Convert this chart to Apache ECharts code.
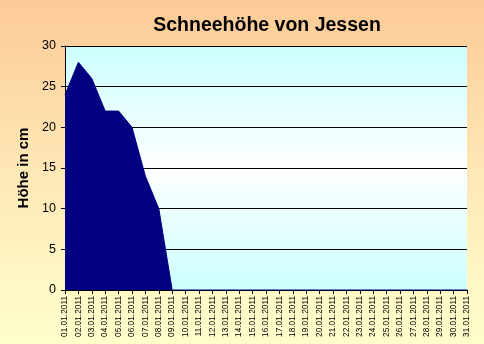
<!DOCTYPE html>
<html><head><meta charset="utf-8">
<script src="https://cdn.jsdelivr.net/npm/echarts@6/dist/echarts.min.js"></script>
<style>html,body{margin:0;padding:0}#c{width:484px;height:344px}</style>
</head><body><div id="c"></div>
<script>
const categories = ["01.01.2011","02.01.2011","03.01.2011","04.01.2011","05.01.2011","06.01.2011","07.01.2011","08.01.2011","09.01.2011","10.01.2011","11.01.2011","12.01.2011","13.01.2011","14.01.2011","15.01.2011","16.01.2011","17.01.2011","18.01.2011","19.01.2011","20.01.2011","21.01.2011","22.01.2011","23.01.2011","24.01.2011","25.01.2011","26.01.2011","27.01.2011","28.01.2011","29.01.2011","30.01.2011","31.01.2011"];
const schneehoehe = [24,28,26,22,22,20,14,10,0,0,0,0,0,0,0,0,0,0,0,0,0,0,0,0,0,0,0,0,0,0,0];
const yTicks = [0,5,10,15,20,25,30];
const titleText = "Schneehöhe von Jessen";
const yName = "Höhe in cm";

const chart = echarts.init(document.getElementById('c'), null, {renderer:'canvas'});
chart.setOption({
  animation:false,
  backgroundColor:{type:'linear',x:0,y:0,x2:0,y2:1,colorStops:[{offset:0,color:'#fcca96'},{offset:0.5,color:'#fee8b6'},{offset:1,color:'#ffffcc'}]},
  title:{text:titleText,left:262,top:11,textAlign:'center',textStyle:{fontFamily:'Liberation Sans',fontSize:19.5,fontWeight:'bold',color:'#000'}},
  grid:{left:65,right:17,top:46,bottom:54,show:true,borderWidth:0,
    backgroundColor:{type:'linear',x:0,y:0,x2:0,y2:1,colorStops:[{offset:0,color:'#ccffff'},{offset:0.5,color:'#ffffff'},{offset:1,color:'#ccffff'}]}},
  xAxis:{type:'category',data:categories,boundaryGap:false,
    axisLine:{lineStyle:{color:'#000',width:1}},
    axisTick:{show:true,alignWithLabel:true,length:4,lineStyle:{color:'#000'}},
    axisLabel:{rotate:90,interval:0,fontFamily:'Liberation Sans',fontSize:8.3,color:'#000',margin:6},
    splitLine:{show:false}},
  yAxis:{type:'value',min:yTicks[0],max:yTicks[yTicks.length-1],interval:5,
    name:yName,nameLocation:'middle',nameGap:30,nameRotate:90,
    nameTextStyle:{fontFamily:'Liberation Sans',fontSize:15,fontWeight:'bold',color:'#000'},
    axisLine:{show:true,lineStyle:{color:'#000',width:1}},
    axisTick:{show:true,length:4,lineStyle:{color:'#000'}},
    axisLabel:{fontFamily:'Liberation Sans',fontSize:12.5,color:'#000',margin:9},
    splitLine:{show:true,lineStyle:{color:'#000',width:1}}},
  series:[{type:'line',data:schneehoehe,showSymbol:false,symbol:'none',
    lineStyle:{color:'#000080',width:1},areaStyle:{color:'#000080',opacity:1},z:1}]
});
</script></body></html>
